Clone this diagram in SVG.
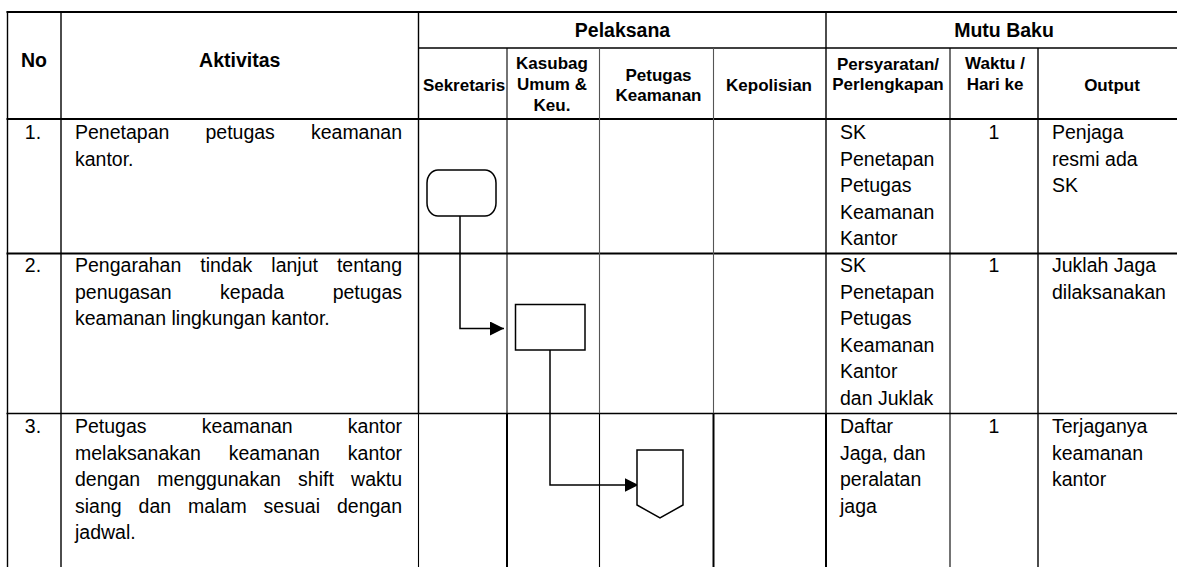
<svg xmlns="http://www.w3.org/2000/svg" width="1177" height="567" viewBox="0 0 1177 567">
<style>
  .bg { fill: #ffffff; }
  .ln { stroke: #000; fill: none; }
  .thk { stroke-width: 2; }
  .med { stroke-width: 1.4; }
  .thn { stroke-width: 1.1; }
  .gry { stroke: #555; stroke-width: 1.1; }
  .h1 { font-family: "Liberation Sans", Arial, sans-serif; font-weight: bold; font-size: 19.5px; fill: #000; text-anchor: middle; }
  .h2 { font-family: "Liberation Sans", Arial, sans-serif; font-weight: bold; font-size: 17px; fill: #000; text-anchor: middle; }
  .t { font-family: "Liberation Sans", Arial, sans-serif; font-size: 19.5px; fill: #000; }
  .c { text-anchor: middle; }
  .shape { fill: #fff; stroke: #000; stroke-width: 1.5; }
  .conn { fill: none; stroke: #000; stroke-width: 1.5; }
</style>
<defs>
  <marker id="arrow" markerUnits="userSpaceOnUse" markerWidth="14" markerHeight="14" refX="14" refY="7" orient="auto">
    <path d="M0,0 L14,7 L0,14 Z" fill="#000"/>
  </marker>
</defs>
<rect class="bg" x="0" y="0" width="1177" height="567"/>

<g id="table">
  <!-- horizontal lines -->
  <line class="ln thk" x1="6.5" y1="12" x2="1177" y2="12"/>
  <line class="ln med" x1="418.5" y1="48" x2="1177" y2="48"/>
  <line class="ln thk" x1="6.5" y1="119" x2="1177" y2="119"/>
  <line class="ln thk" x1="6.5" y1="253.5" x2="1177" y2="253.5"/>
  <line class="ln med" x1="6.5" y1="413.5" x2="1177" y2="413.5"/>
  <!-- vertical lines -->
  <line class="ln med" x1="7.5" y1="11" x2="7.5" y2="567"/>
  <line class="ln med" x1="61" y1="12" x2="61" y2="567"/>
  <line class="ln med" x1="418.5" y1="12" x2="418.5" y2="413.5"/>
  <line class="ln thn" x1="418.5" y1="413.5" x2="418.5" y2="567"/>
  <line class="ln thn" x1="507" y1="48" x2="507" y2="413.5"/>
  <line class="ln thk" x1="507" y1="413.5" x2="507" y2="567"/>
  <line class="ln gry" x1="599.5" y1="48" x2="599.5" y2="413.5"/>
  <line class="ln thn" x1="599.5" y1="413.5" x2="599.5" y2="567"/>
  <line class="ln gry" x1="713.5" y1="48" x2="713.5" y2="413.5"/>
  <line class="ln thk" x1="713.5" y1="413.5" x2="713.5" y2="567"/>
  <line class="ln med" x1="826" y1="12" x2="826" y2="413.5"/>
  <line class="ln thk" x1="826" y1="413.5" x2="826" y2="567"/>
  <line class="ln thn" x1="950" y1="48" x2="950" y2="567"/>
  <line class="ln med" x1="1038" y1="48" x2="1038" y2="567"/>
</g>

<g id="header">
  <text class="h1" x="34" y="66.5">No</text>
  <text class="h1" x="239.7" y="66.5">Aktivitas</text>
  <text class="h1" x="622.5" y="36.5">Pelaksana</text>
  <text class="h1" x="1004" y="36.5">Mutu Baku</text>
  <text class="h2" x="464" y="91">Sekretaris</text>
  <text class="h2" x="552" y="69">Kasubag</text>
  <text class="h2" x="552" y="90">Umum &amp;</text>
  <text class="h2" x="552" y="111">Keu.</text>
  <text class="h2" x="658.5" y="81">Petugas</text>
  <text class="h2" x="658.5" y="101">Keamanan</text>
  <text class="h2" x="769" y="91">Kepolisian</text>
  <text class="h2" x="888" y="69.5">Persyaratan/</text>
  <text class="h2" x="888" y="89.5">Perlengkapan</text>
  <text class="h2" x="995" y="69">Waktu /</text>
  <text class="h2" x="995" y="89.5">Hari ke</text>
  <text class="h2" x="1112" y="91">Output</text>
</g>

<g id="row1">
  <text class="t c" x="33" y="139">1.</text>
  <text class="t" y="139"><tspan x="75">Penetapan</tspan><tspan x="205.45">petugas</tspan><tspan x="310.95">keamanan</tspan></text>
  <text class="t" x="75" y="165.6">kantor.</text>
  <text class="t" x="840" y="139">SK</text>
  <text class="t" x="840" y="165.6">Penetapan</text>
  <text class="t" x="840" y="192.2">Petugas</text>
  <text class="t" x="840" y="218.8">Keamanan</text>
  <text class="t" x="840" y="245.4">Kantor</text>
  <text class="t c" x="994" y="139">1</text>
  <text class="t" x="1052" y="139">Penjaga</text>
  <text class="t" x="1052" y="165.6">resmi ada</text>
  <text class="t" x="1052" y="192.2">SK</text>
</g>

<g id="row2">
  <text class="t c" x="33" y="272">2.</text>
  <text class="t" y="272"><tspan x="75">Pengarahan</tspan><tspan x="200.26">tindak</tspan><tspan x="271.31">lanjut</tspan><tspan x="336.94">tentang</tspan></text>
  <text class="t" y="298.6"><tspan x="75">penugasan</tspan><tspan x="220.08">kepada</tspan><tspan x="332.63">petugas</tspan></text>
  <text class="t" x="75" y="325.2">keamanan lingkungan kantor.</text>
  <text class="t" x="840" y="272">SK</text>
  <text class="t" x="840" y="298.6">Penetapan</text>
  <text class="t" x="840" y="325.2">Petugas</text>
  <text class="t" x="840" y="351.8">Keamanan</text>
  <text class="t" x="840" y="378.4">Kantor</text>
  <text class="t" x="840" y="405">dan Juklak</text>
  <text class="t c" x="994" y="272">1</text>
  <text class="t" x="1052" y="272">Juklah Jaga</text>
  <text class="t" x="1052" y="298.6">dilaksanakan</text>
</g>

<g id="row3">
  <text class="t c" x="33" y="433">3.</text>
  <text class="t" y="433"><tspan x="75">Petugas</tspan><tspan x="201.65">keamanan</tspan><tspan x="347.8">kantor</tspan></text>
  <text class="t" y="459.6"><tspan x="75">melaksanakan</tspan><tspan x="228.74">keamanan</tspan><tspan x="347.81">kantor</tspan></text>
  <text class="t" y="486.2"><tspan x="75">dengan</tspan><tspan x="157.28">menggunakan</tspan><tspan x="298.08">shift</tspan><tspan x="351.07">waktu</tspan></text>
  <text class="t" y="512.8"><tspan x="75">siang</tspan><tspan x="138.6">dan</tspan><tspan x="188.12">malam</tspan><tspan x="263.61">sesuai</tspan><tspan x="336.96">dengan</tspan></text>
  <text class="t" x="75" y="539.4">jadwal.</text>
  <text class="t" x="840" y="433">Daftar</text>
  <text class="t" x="840" y="459.6">Jaga, dan</text>
  <text class="t" x="840" y="486.2">peralatan</text>
  <text class="t" x="840" y="512.8">jaga</text>
  <text class="t c" x="994" y="433">1</text>
  <text class="t" x="1052" y="433">Terjaganya</text>
  <text class="t" x="1052" y="459.6">keamanan</text>
  <text class="t" x="1052" y="486.2">kantor</text>
</g>

<g id="connectors">
  <path class="conn" d="M460,216 V328.5 H504" marker-end="url(#arrow)"/>
  <path class="conn" d="M550,350 V485 H638.5" marker-end="url(#arrow)"/>
</g>

<g id="n1">
  <path class="shape" d="M438,170 H485 A11,13 0 0 1 496,183 V203 A11,13 0 0 1 485,216 H438 A11,13 0 0 1 427,203 V183 A11,13 0 0 1 438,170 Z"/>
</g>
<g id="n2">
  <rect class="shape" x="515.5" y="304.5" width="69.5" height="45.5"/>
</g>
<g id="n3">
  <path class="shape" d="M637,450 H683 V505 L660,518 L637,505 Z"/>
</g>
</svg>
